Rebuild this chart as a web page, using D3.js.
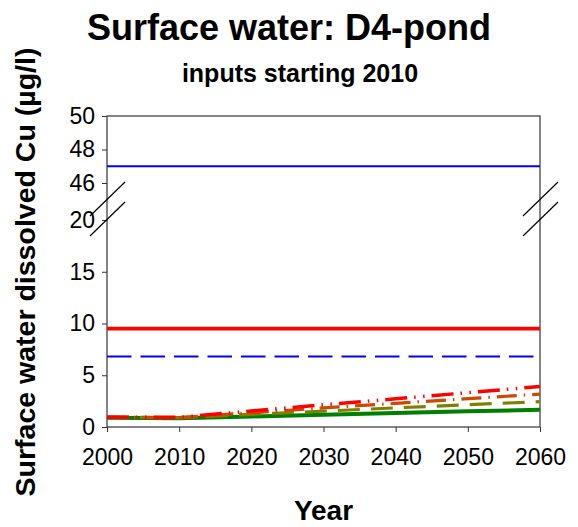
<!DOCTYPE html>
<html>
<head>
<meta charset="utf-8">
<script src="https://cdn.jsdelivr.net/npm/d3@7"></script>
<style>
  body { margin: 0; background: #fff; }
  #chart { width: 578px; height: 527px; }
  text { font-family: "Liberation Sans", Arial, sans-serif; }
</style>
</head>
<body>
<div id="chart"></div>
<script>
// Years on the x axis
const years = [2000, 2010, 2020, 2030, 2040, 2050, 2060];
const xTicks = [2000, 2010, 2020, 2030, 2040, 2050, 2060];
const yTicksLow = [0, 5, 10, 15, 20];
const yTicksHigh = [46, 48, 50];

// Rising scenarios (µg/l)
const redDashDot = [0.95, 0.93, 1.55, 2.15, 2.72, 3.32, 3.92];
const orangeDashDot = [0.95, 0.9, 1.38, 1.84, 2.28, 2.74, 3.18];
const oliveDash = [0.95, 0.9, 1.22, 1.53, 1.85, 2.15, 2.45];
const greenSolid = [0.9, 0.85, 1.02, 1.18, 1.35, 1.51, 1.67];

// Horizontal reference levels
const blueTop = 47.0;
const redLevel = 9.5;
const blueDashLevel = 6.8;

document.addEventListener('DOMContentLoaded', function() {
  const W = 578, H = 527;
  const left = 107, right = 540, top = 116, bottom = 427;

  const svg = d3.select("#chart").append("svg")
    .attr("width", W)
    .attr("height", H);

  // Scales: broken y axis, two segments
  const x = d3.scaleLinear().domain([2000, 2060]).range([left, right]);
  const yLow = d3.scaleLinear().domain([0, 20]).range([bottom, 220]);
  const yHigh = d3.scaleLinear().domain([46, 50]).range([183, top]);

  // Title
  svg.append("text")
    .attr("x", 289).attr("y", 40)
    .attr("text-anchor", "middle")
    .style("font-size", "36px").style("font-weight", "bold")
    .text("Surface water: D4-pond");

  svg.append("text")
    .attr("x", 300).attr("y", 82)
    .attr("text-anchor", "middle")
    .style("font-size", "25px").style("font-weight", "bold")
    .text("inputs starting 2010");

  // Frame
  svg.append("rect")
    .attr("x", left).attr("y", top)
    .attr("width", right - left).attr("height", bottom - top)
    .attr("fill", "none")
    .attr("stroke", "#333").attr("stroke-width", 1.2);

  // X axis
  const xAxis = svg.append("g")
    .attr("transform", `translate(0,${bottom})`)
    .call(d3.axisBottom(x).tickValues(xTicks).tickFormat(d3.format("d")).tickSize(5).tickPadding(17));
  xAxis.select(".domain").remove();

  // Y axes (lower and upper segments)
  const yAxisLow = svg.append("g")
    .attr("transform", `translate(${left},0)`)
    .call(d3.axisLeft(yLow).tickValues(yTicksLow).tickFormat(d3.format("d")).tickSize(5).tickPadding(7));
  const yAxisHigh = svg.append("g")
    .attr("transform", `translate(${left},0)`)
    .call(d3.axisLeft(yHigh).tickValues(yTicksHigh).tickFormat(d3.format("d")).tickSize(5).tickPadding(7));
  yAxisLow.select(".domain").remove();
  yAxisHigh.select(".domain").remove();

  svg.selectAll(".tick text")
    .style("font-size", "23px")
    .style("font-family", "'Liberation Sans', Arial, sans-serif")
    .attr("fill", "#000");
  svg.selectAll(".tick line").attr("stroke", "#333");

  // Break marks on both sides
  const breakY = [yLow(20), yLow(20) - 20];
  [left, right].forEach(cx => {
    breakY.forEach(cy => {
      svg.append("line")
        .attr("x1", cx - 17).attr("y1", cy + 16)
        .attr("x2", cx + 18).attr("y2", cy - 18)
        .attr("stroke", "#000").attr("stroke-width", 1.2);
    });
  });

  // Axis titles
  svg.append("text")
    .attr("x", (left + right) / 2).attr("y", 520)
    .attr("text-anchor", "middle")
    .style("font-size", "28px").style("font-weight", "bold")
    .text("Year");

  svg.append("text")
    .attr("transform", "translate(35,272) rotate(-90)")
    .attr("text-anchor", "middle")
    .style("font-size", "28.5px").style("font-weight", "bold")
    .text("Surface water dissolved Cu (µg/l)");

  // Horizontal levels
  svg.append("line")
    .attr("x1", x(2000)).attr("x2", x(2060))
    .attr("y1", yHigh(blueTop)).attr("y2", yHigh(blueTop))
    .attr("stroke", "#0000ff").attr("stroke-width", 2);

  svg.append("line")
    .attr("x1", x(2000)).attr("x2", x(2060))
    .attr("y1", yLow(blueDashLevel)).attr("y2", yLow(blueDashLevel))
    .attr("stroke", "#0000ff").attr("stroke-width", 2)
    .attr("stroke-dasharray", "24.5,9");

  svg.append("line")
    .attr("x1", x(2000)).attr("x2", x(2060))
    .attr("y1", yLow(redLevel)).attr("y2", yLow(redLevel))
    .attr("stroke", "#ff0000").attr("stroke-width", 3.8);

  // Rising scenario lines
  const line = d3.line()
    .x((d, i) => x(years[i]))
    .y(d => yLow(d));

  const series = [
    { values: greenSolid, color: "#008000", width: 4, dash: null },
    { values: oliveDash, color: "#808000", width: 3.2, dash: "22,11" },
    { values: orangeDashDot, color: "#cc4a00", width: 3.2, dash: "20,7,1.5,7" },
    { values: redDashDot, color: "#ff0000", width: 3.5, dash: "22,7,1.5,7.5,1.5,7" }
  ];

  svg.selectAll("path.series")
    .data(series)
    .enter()
    .append("path")
    .attr("class", "series")
    .attr("d", d => line(d.values))
    .attr("fill", "none")
    .attr("stroke", d => d.color)
    .attr("stroke-width", d => d.width)
    .attr("stroke-dasharray", d => d.dash);
});
</script>
</body>
</html>
